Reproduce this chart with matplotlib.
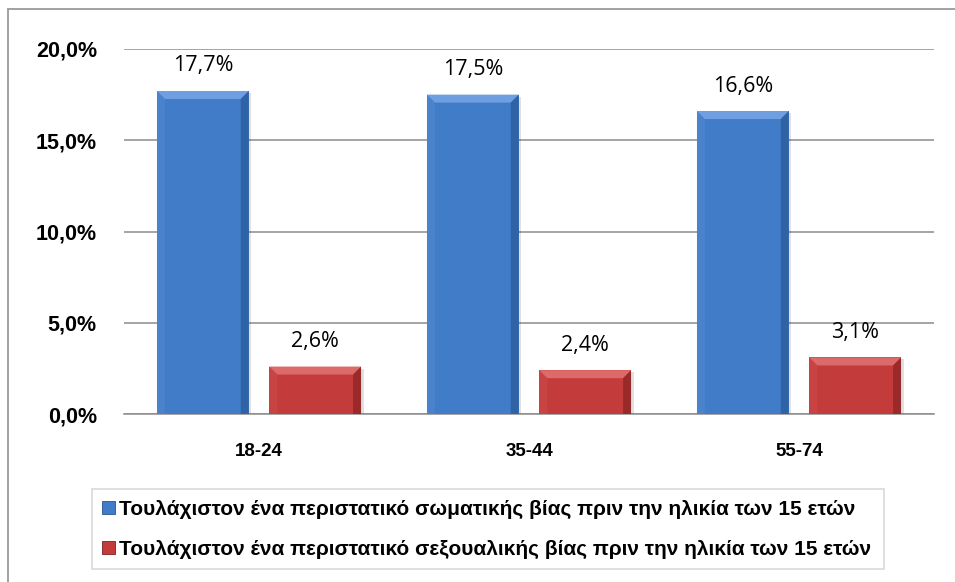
import numpy as np
import matplotlib
matplotlib.use('Agg')
from matplotlib import pyplot as plt
from matplotlib.patches import Patch, Polygon, Rectangle
from matplotlib.ticker import FuncFormatter

plt.rcParams['font.family'] = ['Liberation Sans', 'DejaVu Sans']
label_family = ['Open Sans', 'DejaVu Sans']

# Data
categories = ['18-24', '35-44', '55-74']
physical = [17.7, 17.5, 16.6]
sexual = [2.6, 2.4, 3.1]
series_names = ['Τουλάχιστον ένα περιστατικό σωματικής βίας πριν την ηλικία των 15 ετών',
                'Τουλάχιστον ένα περιστατικό σεξουαλικής βίας πριν την ηλικία των 15 ετών']
yticks = [0, 5, 10, 15, 20]

W, H, DPI = 955, 582, 100
fig = plt.figure(figsize=(W / DPI, H / DPI), dpi=DPI)
fig.patch.set_facecolor('white')

# outer chart border
fig.add_artist(Rectangle((8 / W, -0.01), (W - 8) / W + 0.02, 1 - 9 / H + 0.01,
                         transform=fig.transFigure, fill=False,
                         edgecolor='#9a9a9a', linewidth=1.3))

ax_l, ax_r, ax_t, ax_b = 124, 934, 49, 414
ax = fig.add_axes([ax_l / W, 1 - ax_b / H, (ax_r - ax_l) / W, (ax_b - ax_t) / H])
ax.set_xlim(-0.5, 2.5)
ax.set_ylim(0, 20)

px_x = (ax_r - ax_l) / 3.0       # pixels per x unit
px_y = (ax_b - ax_t) / 20.0      # pixels per y unit

x = np.arange(len(categories))
bw = 0.34
off = 0.208

styles = [
    # body, top light, left light, right dark
    ('#417cc8', '#6f9fe0', '#5b90d6', '#24538f'),
    ('#c43b3b', '#dc6a6a', '#d05656', '#7e1f1f'),
]


def bevel_bar(xc, h, st):
    x0, x1 = xc - bw / 2, xc + bw / 2
    bars = ax.bar(xc, h, bw, color=st[0], edgecolor='none', zorder=3)
    b = 8.0
    dx, dy = b / px_x, b / px_y
    dy = min(dy, h / 2.5)
    ax.add_patch(Polygon([(x0, h), (x1, h), (x1 - dx, h - dy), (x0 + dx, h - dy)],
                         closed=True, facecolor=st[1], edgecolor='none', zorder=4))
    ax.add_patch(Polygon([(x0, 0), (x0, h), (x0 + dx, h - dy), (x0 + dx, 0)],
                         closed=True, facecolor=st[2], edgecolor='none', zorder=4, alpha=0.35))
    ax.add_patch(Polygon([(x1, 0), (x1, h), (x1 - dx, h - dy), (x1 - dx, 0)],
                         closed=True, facecolor=st[3], edgecolor='none', zorder=4, alpha=0.6))
    # faint shadow at right
    ax.add_patch(Rectangle((x1, 0), 2.5 / px_x, h - 2 / px_y, facecolor='#000000',
                           alpha=0.12, edgecolor='none', zorder=2))
    return bars


for i in range(len(categories)):
    bevel_bar(x[i] - off, physical[i], styles[0])
    bevel_bar(x[i] + off, sexual[i], styles[1])
    ax.text(x[i] - off, physical[i] + 25 / px_y, ('%.1f%%' % physical[i]).replace('.', ','),
            ha='center', va='center', fontsize=15.5, color='black', family=label_family)
    ax.text(x[i] + off, sexual[i] + 25 / px_y, ('%.1f%%' % sexual[i]).replace('.', ','),
            ha='center', va='center', fontsize=15.5, color='black', family=label_family)

ax.set_yticks(yticks)
ax.yaxis.set_major_formatter(FuncFormatter(lambda v, p: ('%.1f%%' % v).replace('.', ',')))
ax.yaxis.grid(True, color='#8c8c8c', linewidth=1.1, zorder=0)
ax.set_axisbelow(True)
ax.set_xticks(x)
ax.set_xticklabels(categories)
for lab in ax.get_yticklabels():
    lab.set_fontweight('bold')
    lab.set_fontsize(15.5)
for lab in ax.get_xticklabels():
    lab.set_fontweight('bold')
    lab.set_fontsize(13.5)
ax.tick_params(axis='y', length=0, pad=19.5)
ax.tick_params(axis='x', length=0, pad=21)
for s in ['left', 'right', 'top']:
    ax.spines[s].set_visible(False)
ax.spines['bottom'].set_color('#8c8c8c')
ax.spines['bottom'].set_linewidth(1.1)

handles = [Patch(facecolor=styles[0][0], edgecolor=styles[0][3], linewidth=0.6),
           Patch(facecolor=styles[1][0], edgecolor=styles[1][3], linewidth=0.6)]
leg = fig.legend(handles, series_names, loc='lower left',
                 bbox_to_anchor=(92 / W, 1 - 569 / H, (884 - 92) / W, (569 - 483) / H),
                 mode='expand', ncol=1, frameon=True, fancybox=False,
                 prop={'weight': 'bold', 'size': 15},
                 handlelength=0.6, handleheight=0.6, handletextpad=0.2,
                 labelspacing=1.0, borderpad=0.5, borderaxespad=0)
leg.get_frame().set_edgecolor('#d4d4d4')
leg.get_frame().set_linewidth(1.3)

fig.savefig('out.png', dpi=DPI)
